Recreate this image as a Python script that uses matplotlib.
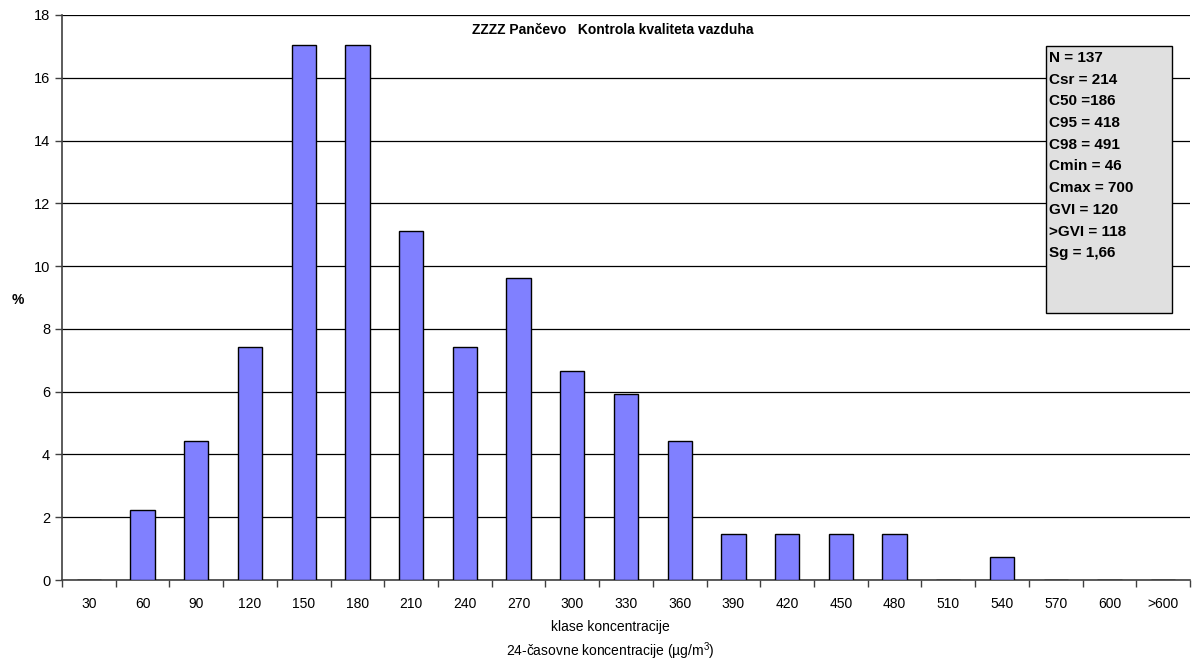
import matplotlib.pyplot as plt
import numpy as np

plt.rcParams['font.family'] = ['Liberation Sans', 'DejaVu Sans']
plt.rcParams['mathtext.default'] = 'regular'

# klase koncentracije i procenti (N = 135 u klasama)
classes = ["30", "60", "90", "120", "150", "180", "210", "240", "270", "300",
           "330", "360", "390", "420", "450", "480", "510", "540", "570", "600", ">600"]
percent = [0.0, 2.22, 4.44, 7.41, 17.04, 17.04, 11.11, 7.41, 9.63, 6.67,
           5.93, 4.44, 1.48, 1.48, 1.48, 1.48, 0.0, 0.74, 0.0, 0.0, 0.0]

stats = ["N = 137", "Csr = 214", "C50 =186", "C95 = 418", "C98 = 491",
         "Cmin = 46", "Cmax = 700", "GVI = 120", ">GVI = 118", "Sg = 1,66"]

fig = plt.figure(figsize=(11.97, 6.61), dpi=100)
ax = fig.add_axes([62 / 1197, 1 - 580 / 661, (1190 - 62) / 1197, (580 - 15) / 661])

x = np.arange(len(classes))
ax.bar(x, percent, width=0.45, color='#8080ff', edgecolor='black', linewidth=1.0, zorder=3)

ax.set_xlim(-0.5, len(classes) - 0.5)
ax.set_ylim(0, 18)
ax.set_yticks(np.arange(0, 19, 2))
ax.yaxis.grid(True, color='black', linewidth=0.9, zorder=0)

# kategorije: oznake na sredini, crtice na granicama
ax.set_xticks(x)
ax.set_xticklabels(classes, fontsize=10)
ax.tick_params(axis='x', length=0, pad=12)
ax.set_xticks(np.arange(-0.5, len(classes), 1), minor=True)
ax.tick_params(axis='x', which='minor', length=5, width=1, color='#404040')
ax.tick_params(axis='y', labelsize=10.5, length=5, width=1, color='#404040')

for s in ['top', 'right']:
    ax.spines[s].set_visible(False)
ax.spines['left'].set_color('#404040')
ax.spines['bottom'].set_color('#404040')
ax.spines['left'].set_linewidth(1.2)
ax.spines['bottom'].set_linewidth(1.2)

fig.text(18 / 1197, 1 - 300 / 661, "%", fontsize=10, fontweight='bold', ha='center', va='center')
fig.text(610 / 1197, 1 - 627 / 661, "klase koncentracije", fontsize=10, ha='center', va='center')
fig.text(610 / 1197, 1 - 651 / 661, "24-časovne koncentracije (µg/m$^{3}$)", fontsize=10,
         ha='center', va='center')
fig.text(613 / 1197, 1 - 30 / 661, "ZZZZ Pančevo   Kontrola kvaliteta vazduha", fontsize=10,
         fontweight='bold', ha='center', va='center')

# okvir sa statistikom
box = plt.Rectangle((1046 / 1197, 1 - 313 / 661), (1172 - 1046) / 1197, (313 - 46) / 661,
                    transform=fig.transFigure, facecolor='#e0e0e0', edgecolor='black',
                    linewidth=1.0, zorder=5)
fig.patches.append(box)
for i, s in enumerate(stats):
    fig.text(1049 / 1197, 1 - (58 + i * 21.7) / 661, s, fontsize=11, fontweight='bold',
             ha='left', va='center', zorder=6)

fig.savefig("out.png", dpi=100)
